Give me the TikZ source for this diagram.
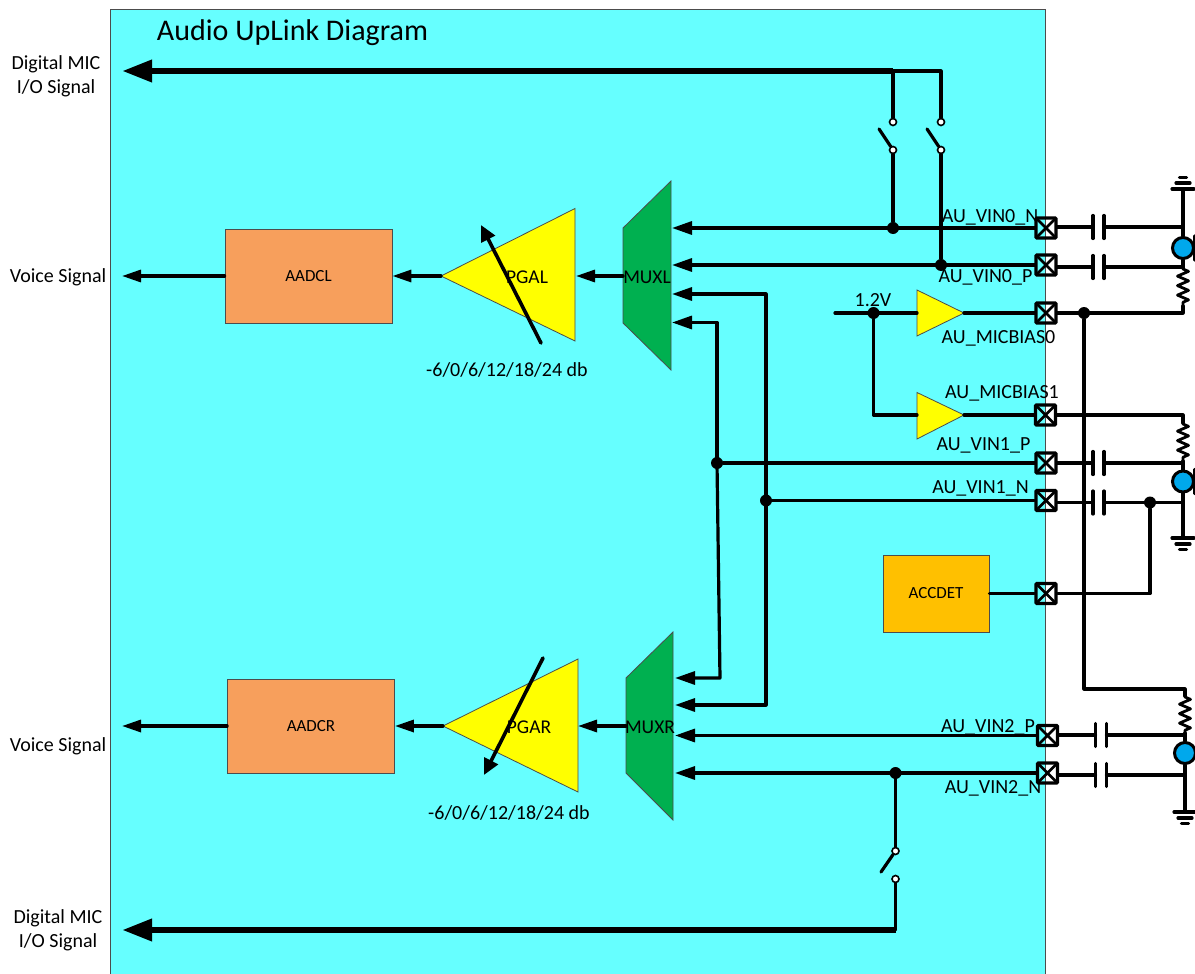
\documentclass[tikz,border=0pt]{standalone}
\usepackage{fontspec}
\setmainfont{Carlito}
\usepackage{xcolor}
\usetikzlibrary{arrows.meta,decorations.pathmorphing}
\definecolor{panel-cyan}{HTML}{66FFFF}
\definecolor{mux-green}{HTML}{00B050}
\definecolor{adc-orange}{HTML}{F79F5C}
\definecolor{det-amber}{HTML}{FFC000}
\definecolor{mic-blue}{HTML}{00A8EC}
\definecolor{amp-yellow}{HTML}{FFFF00}
\tikzset{
    wire/.style = {draw=black, line width=3.2pt, line cap=round, line join=round},
    bus-in/.style = {wire, -{Triangle[length=20pt,width=13pt]}},
    bus-out/.style = {wire, -{Triangle[length=19pt,width=12pt]}},
    fat-bus/.style = {draw=black, line width=6.5pt, -{Triangle[length=30pt,width=21pt]}},
    gain-arrow/.style = {wire, line width=3.6pt, -{Triangle[length=16pt,width=15pt]}},
    resistor/.style = {wire, line width=2.8pt, decorate, decoration={zigzag, segment length=9.5pt, amplitude=5.5pt, pre length=1pt, post length=1pt}},
    block-edge/.style = {draw=black!70, line width=0.8pt},
    adc-box/.style = {block-edge, fill=adc-orange, rectangle, minimum width=167pt, minimum height=94pt, inner sep=0pt, font=\fontsize{17}{20}\selectfont},
    det-box/.style = {block-edge, fill=det-amber, rectangle, minimum width=106pt, minimum height=77pt, inner sep=0pt, font=\fontsize{17}{20}\selectfont},
    dot-node/.style = {circle, fill=black, minimum size=12pt, inner sep=0pt},
    switch-node/.style = {circle, draw=black, fill=white, line width=1.6pt, minimum size=7pt, inner sep=0pt},
    pad-box/.style = {draw=black, line width=3.2pt, rectangle, minimum size=20pt, inner sep=0pt, rounded corners=0.8pt,
        path picture={\draw[line width=2.6pt] (path picture bounding box.north west) -- (path picture bounding box.south east)
            (path picture bounding box.north east) -- (path picture bounding box.south west);}},
    cap-gap/.style = {minimum width=11pt, minimum height=23pt, inner sep=0pt, outer sep=0pt,
        append after command={(\tikzlastnode.north west) edge[wire] (\tikzlastnode.south west)
            (\tikzlastnode.north east) edge[wire] (\tikzlastnode.south east)}},
    mic-node/.style = {circle, draw=black, fill=mic-blue, line width=3pt, minimum size=21pt, inner sep=0pt,
        append after command={([shift={(11.5pt,12pt)}]\tikzlastnode.center) edge[wire] ([shift={(11.5pt,-12pt)}]\tikzlastnode.center)}},
    pin-label/.style = {font=\fontsize{20}{23}\selectfont, inner sep=0pt, yshift=-1.5pt},
    side-label/.style = {font=\fontsize{20}{24}\selectfont, align=center, inner sep=0pt, yshift=-1.5pt},
    block-label/.style = {font=\fontsize{19.5}{22}\selectfont, inner sep=0pt, yshift=-1pt},
    pics/ground-mark/.style = {code={
        \draw[wire] (-11,0) -- (11,0);
        \draw[wire] (-7,6) -- (7,6);
        \draw[wire] (-3.5,11.5) -- (3.5,11.5);
    }},
}

\begin{document}
\begin{tikzpicture}[x=1pt, y=-1pt]
\useasboundingbox (0,0) rectangle (1195,974);

% panel
\fill[panel-cyan] (110,9.5) rectangle (1045.5,974);
\draw[black!70, line width=0.8pt] (110,974) -- (110,9.5) -- (1045.5,9.5) -- (1045.5,974);
\node[font=\fontsize{30}{33}\selectfont, inner sep=0pt] (title) at (292.5,33) {Audio UpLink Diagram};

% side texts
\node[side-label] (dmic-top) at (56,75) {Digital MIC\\I/O Signal};
\node[side-label] (dmic-bot) at (58,929) {Digital MIC\\I/O Signal};
\node[side-label] (voice-l) at (58,276) {Voice Signal};
\node[side-label] (voice-r) at (58,745) {Voice Signal};
\coordinate (out-l) at (122,276);
\coordinate (out-r) at (122,726);
\coordinate (out-top) at (122,71);
\coordinate (out-bot) at (122,930);

% left channel
\node[adc-box] (aadcl) at (308.5,276) {AADCL};
\draw[block-edge, fill=amp-yellow] (441,276) -- (575,208.5) -- (575,341) -- cycle;
\coordinate (pgal-in) at (576,276);
\coordinate (pgal-out) at (441,276);
\node[block-label] (pgal) at (527,276) {PGAL};
\draw[block-edge, fill=mux-green] (623,228) -- (671,181) -- (671,370) -- (623,323) -- cycle;
\coordinate (muxl-out) at (623,276);
\node[block-label] (muxl) at (647,276) {MUXL};
\coordinate (muxl-a) at (672,228);
\coordinate (muxl-b) at (672,265);
\coordinate (muxl-c) at (672,294);
\coordinate (muxl-d) at (672,322.5);
\coordinate (gainl-s) at (541,343);
\coordinate (gainl-e) at (481,225);
\node[pin-label] (dbl) at (507,368) {-6/0/6/12/18/24 db};

% right channel
\node[adc-box] (aadcr) at (311,726) {AADCR};
\draw[block-edge, fill=amp-yellow] (443,726) -- (578,659) -- (578,792) -- cycle;
\coordinate (pgar-in) at (578,726);
\coordinate (pgar-out) at (443,726);
\node[block-label] (pgar) at (529,726) {PGAR};
\draw[block-edge, fill=mux-green] (626,678) -- (673,632) -- (673,820) -- (626,773) -- cycle;
\coordinate (muxr-out) at (626,726);
\node[block-label] (muxr) at (650,726) {MUXR};
\coordinate (muxr-a) at (675,678);
\coordinate (muxr-b) at (675,705);
\coordinate (muxr-c) at (675,735.5);
\coordinate (muxr-d) at (675,773);
\coordinate (gainr-s) at (543,658);
\coordinate (gainr-e) at (484,775);
\node[pin-label] (dbr) at (509,811) {-6/0/6/12/18/24 db};

% pads
\node[pad-box] (pad-vin0n) at (1046,228) {};
\node[pad-box] (pad-vin0p) at (1046,265) {};
\node[pad-box] (pad-bias0) at (1046,313) {};
\node[pad-box] (pad-bias1) at (1045.5,415) {};
\node[pad-box] (pad-vin1p) at (1046,463) {};
\node[pad-box] (pad-vin1n) at (1046,500.5) {};
\node[pad-box] (pad-det) at (1046,593.5) {};
\node[pad-box] (pad-vin2p) at (1047.5,735.5) {};
\node[pad-box] (pad-vin2n) at (1047.5,773) {};

% pad names
\node[pin-label] (name-vin0n) at (990,216) {AU\_VIN0\_N};
\node[pin-label] (name-vin0p) at (985.5,276) {AU\_VIN0\_P};
\node[pin-label] (name-bias0) at (998.5,337) {AU\_MICBIAS0};
\node[pin-label] (name-bias1) at (1002,392) {AU\_MICBIAS1};
\node[pin-label] (name-vin1p) at (983.5,444) {AU\_VIN1\_P};
\node[pin-label] (name-vin1n) at (980.5,487) {AU\_VIN1\_N};
\node[pin-label] (name-vin2p) at (988,726) {AU\_VIN2\_P};
\node[pin-label] (name-vin2n) at (993,787) {AU\_VIN2\_N};

% buffers
\draw[block-edge, fill=amp-yellow] (917,290) -- (917,336) -- (964,313) -- cycle;
\draw[block-edge, fill=amp-yellow] (917,392.5) -- (917,439) -- (964,415) -- cycle;
\coordinate (buf0-in) at (917,313);
\coordinate (buf0-out) at (964,313);
\coordinate (buf1-in) at (917,415);
\coordinate (buf1-out) at (964,415);
\coordinate (vdd) at (835,313);
\node[pin-label] (vdd-label) at (873,299) {1.2V};

\node[det-box] (accdet) at (936,593.5) {ACCDET};

% dots
\node[dot-node] (dot-vin0n) at (893,228) {};
\node[dot-node] (dot-vin0p) at (941,265) {};
\node[dot-node] (dot-vdd) at (873.5,313) {};
\node[dot-node] (dot-bias) at (1084,313) {};
\node[dot-node] (dot-vin1p) at (717,463) {};
\node[dot-node] (dot-vin1n) at (766,500.5) {};
\node[dot-node] (dot-det) at (1150,502.5) {};
\node[dot-node] (dot-vin2n) at (895.5,773) {};

% switches
\node[switch-node] (sw-a-top) at (893,122) {};
\node[switch-node] (sw-a-bot) at (893,150) {};
\coordinate (sw-a-arm) at (879,129);
\node[switch-node] (sw-b-top) at (941,122) {};
\node[switch-node] (sw-b-bot) at (941,150) {};
\coordinate (sw-b-arm) at (927,129);
\node[switch-node] (sw-c-top) at (895.5,851) {};
\node[switch-node] (sw-c-bot) at (895.5,879) {};
\coordinate (sw-c-arm) at (881,872);
\coordinate (bus-top) at (893,71);
\coordinate (bus-top-r) at (941,71);
\coordinate (bus-bot) at (895.5,930);

% capacitors
\node[cap-gap] (cap-vin0n) at (1098.5,227) {};
\node[cap-gap] (cap-vin0p) at (1098.5,267) {};
\node[cap-gap] (cap-vin1p) at (1098.5,463) {};
\node[cap-gap] (cap-vin1n) at (1098.5,502.5) {};
\node[cap-gap] (cap-vin2p) at (1101,735) {};
\node[cap-gap] (cap-vin2n) at (1101,775) {};

% microphones
\node[mic-node] (mic0) at (1183,248) {};
\node[mic-node] (mic1) at (1183,481.5) {};
\node[mic-node] (mic2) at (1185,753) {};
\coordinate (res0-top) at (1183,268);
\coordinate (res0-bot) at (1183,306);
\coordinate (res0-end) at (1183,313);
\coordinate (res1-top) at (1183,415);
\coordinate (res1-a) at (1183,423);
\coordinate (res1-b) at (1183,461);
\coordinate (res2-top) at (1185,689);
\coordinate (res2-a) at (1185,696);
\coordinate (res2-b) at (1185,733);
\coordinate (corner-bias) at (1084,689);
\coordinate (gnd0) at (1183,189);
\coordinate (gnd1) at (1183,538);
\coordinate (gnd2) at (1185,812);
\pic[yscale=-1] at (gnd0) {ground-mark};
\pic at (gnd1) {ground-mark};
\pic at (gnd2) {ground-mark};

% digital mic buses
\draw[fat-bus] (bus-top) -- (out-top);
\draw[fat-bus] (bus-bot) -- (out-bot);
\draw[wire] (bus-top) -- (bus-top-r) -- (sw-b-top);
\draw[wire] (bus-top) -- (sw-a-top);
\draw[wire] (sw-a-bot) -- (sw-a-arm);
\draw[wire] (sw-b-bot) -- (sw-b-arm);
\draw[wire] (sw-a-bot) -- (dot-vin0n);
\draw[wire] (sw-b-bot) -- (dot-vin0p);
\draw[wire] (dot-vin2n) -- (sw-c-top);
\draw[wire] (sw-c-top) -- (sw-c-arm);
\draw[wire] (sw-c-bot) -- (bus-bot);

% signal path
\draw[bus-out] (aadcl.west) -- (out-l);
\draw[bus-out] (pgal-out) -- (aadcl.east);
\draw[bus-out] (muxl-out) -- (pgal-in);
\draw[bus-out] (aadcr.west) -- (out-r);
\draw[bus-out] (pgar-out) -- (aadcr.east);
\draw[bus-out] (muxr-out) -- (pgar-in);
\draw[gain-arrow] (gainl-s) -- (gainl-e);
\draw[gain-arrow] (gainr-s) -- (gainr-e);

% mux inputs
\draw[bus-in] (pad-vin0n.west) -- (muxl-a);
\draw[bus-in] (pad-vin0p.west) -- (muxl-b);
\draw[bus-in] (dot-vin1n.center) |- (muxl-c);
\draw[bus-in] (dot-vin1p.center) -- (717,322.5) -- (muxl-d);
\draw[bus-in] (dot-vin1p.center) -- (720,678) -- (muxr-a);
\draw[bus-in] (dot-vin1n.center) |- (muxr-b);
\draw[bus-in] (pad-vin2p.west) -- (muxr-c);
\draw[bus-in] (pad-vin2n.west) -- (muxr-d);
\draw[wire] (pad-vin1p.west) -- (dot-vin1p);
\draw[wire] (pad-vin1n.west) -- (dot-vin1n);

% bias
\draw[wire] (vdd) -- (buf0-in);
\draw[wire] (dot-vdd) |- (buf1-in);
\draw[wire] (buf0-out) -- (pad-bias0.west);
\draw[wire] (buf1-out) -- (pad-bias1.west);
\draw[wire] (accdet.east) -- (pad-det.west);

% outside the chip
\draw[wire] (pad-vin0n.east |- cap-vin0n) -- (cap-vin0n.west);
\draw[wire] (pad-vin0p.east |- cap-vin0p) -- (cap-vin0p.west);
\draw[wire] (pad-vin1p.east |- cap-vin1p) -- (cap-vin1p.west);
\draw[wire] (pad-vin1n.east |- cap-vin1n) -- (cap-vin1n.west);
\draw[wire] (pad-vin2p.east |- cap-vin2p) -- (cap-vin2p.west);
\draw[wire] (pad-vin2n.east |- cap-vin2n) -- (cap-vin2n.west);
\draw[wire] (cap-vin0n.east) -- (cap-vin0n.east -| mic0.center);
\draw[wire] (cap-vin0p.east) -- (cap-vin0p.east -| mic0.center);
\draw[wire] (cap-vin1p.east) -- (cap-vin1p.east -| mic1.center);
\draw[wire] (cap-vin1n.east) -- (cap-vin1n.east -| mic1.center);
\draw[wire] (cap-vin2p.east) -- (cap-vin2p.east -| mic2.center);
\draw[wire] (cap-vin2n.east) -- (cap-vin2n.east -| mic2.center);
\draw[wire] (gnd0) -- (mic0.north);
\draw[wire] (mic0.south) -- (res0-top);
\draw[resistor] (res0-top) -- (res0-bot);
\draw[wire] (res0-bot) -- (res0-end) -- (pad-bias0.east);
\draw[wire] (pad-bias1.east) -- (res1-top) -- (res1-a);
\draw[resistor] (res1-a) -- (res1-b);
\draw[wire] (res1-b) -- (mic1.north);
\draw[wire] (mic1.south) -- (gnd1);
\draw[wire] (dot-bias) -- (corner-bias) -- (res2-top) -- (res2-a);
\draw[resistor] (res2-a) -- (res2-b);
\draw[wire] (res2-b) -- (mic2.north);
\draw[wire] (mic2.south) -- (gnd2);
\draw[wire] (dot-det) |- (pad-det.east);
\end{tikzpicture}
\end{document}
